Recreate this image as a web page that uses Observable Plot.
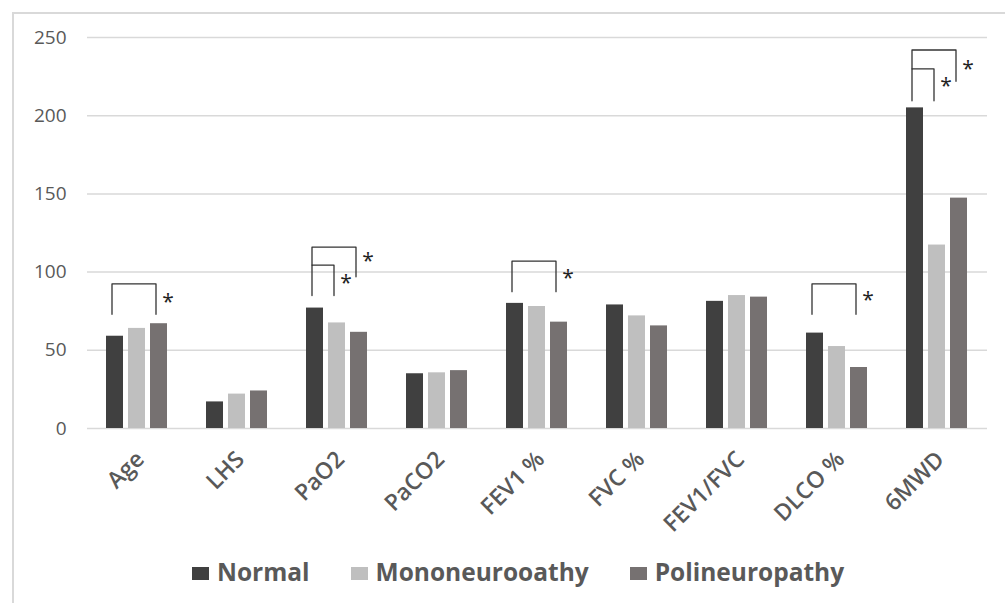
<!DOCTYPE html>
<html><head><meta charset="utf-8">
<script src="https://cdn.jsdelivr.net/npm/d3@7"></script>
<script src="https://cdn.jsdelivr.net/npm/@observablehq/plot@0.6"></script>
<style>
body{margin:0;background:#fff;width:1005px;height:603px;overflow:hidden;position:relative;font-family:"Open Sans",sans-serif}
#frame{position:absolute;left:12px;top:12px;width:1100px;height:700px;border:2px solid #d9d9d9;box-sizing:border-box}
#chart{position:absolute;left:0;top:0}
#legend{position:absolute;top:555px;left:192px;display:flex;align-items:center;font-weight:700;font-size:24.5px;color:#595959;white-space:nowrap}
#legend .item{display:flex;align-items:center;margin-right:41px}
#legend .sw{width:17px;height:13px;margin-right:8px;margin-top:4px}
</style></head>
<body>
<div id="frame"></div>
<div id="chart"></div>
<div id="legend"></div>
<script>
const categories = ["Age","LHS","PaO2","PaCO2","FEV1 %","FVC %","FEV1/FVC","DLCO %","6MWD"];
const series = ["Normal","Mononeurooathy","Polineuropathy"];
const normalValues = [59,17,77,35,80,79,81.3,61,205];
const monoValues = [64,22,67.5,35.6,78,72,85,52.4,117.3];
const polyValues = [67,24,61.5,37,68,65.6,84,39,147.3];
const colors = ["#404040","#bfbfbf","#767171"];
const yTicks = [0,50,100,150,200,250];
// significance brackets: category, from/to series, top, bottom-left, bottom-right, asterisk y
const brackets = [
  {cat:"Age", from:"Normal", to:"Polineuropathy", top:92.5, bl:73, br:73, star:84},
  {cat:"PaO2", from:"Normal", to:"Mononeurooathy", top:104.5, bl:85, br:85, star:96},
  {cat:"PaO2", from:"Normal", to:"Polineuropathy", top:116, bl:104.5, br:97, star:110},
  {cat:"FEV1 %", from:"Normal", to:"Polineuropathy", top:107, bl:87.5, br:87.5, star:99.5},
  {cat:"DLCO %", from:"Normal", to:"Polineuropathy", top:92.5, bl:73, br:73, star:85},
  {cat:"6MWD", from:"Normal", to:"Mononeurooathy", top:230, bl:209.5, br:209.5, star:222},
  {cat:"6MWD", from:"Normal", to:"Polineuropathy", top:242, bl:230, br:222, star:233}
];

const valuesBySeries = [normalValues, monoValues, polyValues];
const table = categories.flatMap((cat,i) => series.map((s,j) => ({cat, series:s, value:valuesBySeries[j][i]})));
const bracketPts = brackets.flatMap((b,i) => [
  {id:i, cat:b.cat, series:b.from, y:b.bl},
  {id:i, cat:b.cat, series:b.from, y:b.top},
  {id:i, cat:b.cat, series:b.to, y:b.top},
  {id:i, cat:b.cat, series:b.to, y:b.br}
]);

const chart = Plot.plot({
  width:1005, height:540,
  marginLeft:83, marginRight:15, marginTop:37, marginBottom:112,
  style:{fontFamily:"'Open Sans', sans-serif", background:"transparent"},
  fx:{domain:categories, padding:0, label:null, axis:null},
  x:{domain:series, paddingInner:0.22, paddingOuter:0.8, axis:null},
  y:{domain:[0,250], label:null},
  color:{domain:series, range:colors},
  marks:[
    Plot.gridY(yTicks,{stroke:"#d9d9d9", strokeOpacity:1, strokeWidth:1.5}),
    Plot.axisY(yTicks,{tickSize:0, tickPadding:21, fontSize:19, fill:"#595959", label:null}),
    Plot.barY(table,{fx:"cat", x:"series", y:"value", fill:"series"}),
    Plot.line(bracketPts,{fx:"cat", x:"series", y:"y", z:"id", stroke:"#333", strokeWidth:1.3, strokeLinejoin:"round", dx:-3}),
    Plot.text(brackets,{fx:"cat", x:"to", y:"star", text:() => "*", dx:9, dy:5, fontSize:21, fill:"#222"}),
    Plot.text(categories,{fx:d => d, text:d => d, frameAnchor:"bottom", rotate:-45, textAnchor:"end", lineAnchor:"middle", dx:3, dy:27, fontSize:23, fontWeight:600, fill:"#595959"})
  ]
});
document.getElementById("chart").appendChild(chart);

const legend = document.getElementById("legend");
series.forEach((s,i) => {
  const item = document.createElement("div");
  item.className = "item";
  const sw = document.createElement("span");
  sw.className = "sw";
  sw.style.background = colors[i];
  const t = document.createElement("span");
  t.textContent = s;
  item.appendChild(sw); item.appendChild(t);
  legend.appendChild(item);
});
</script>
</body></html>
